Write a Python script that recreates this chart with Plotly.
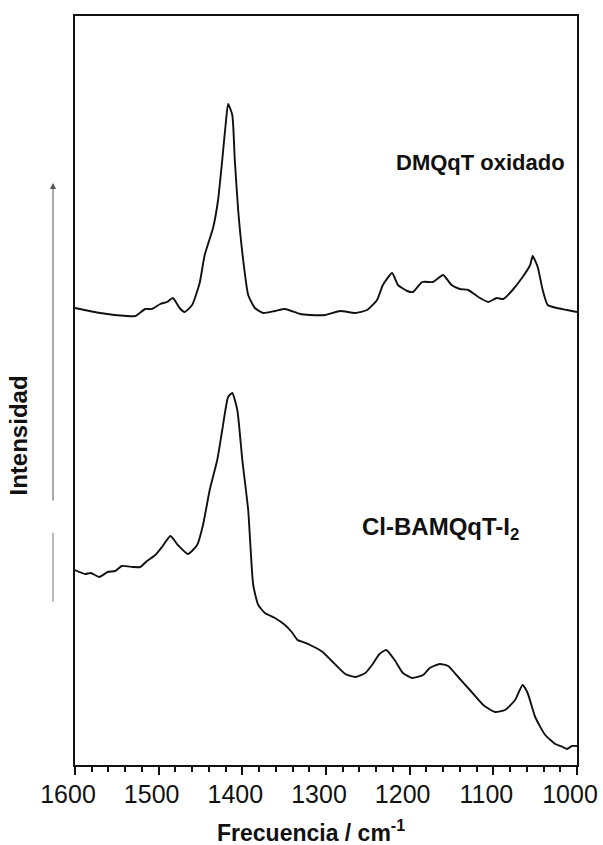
import plotly.graph_objects as go

# Wavenumbers (cm-1) and intensities (arbitrary units)
wn_top = [1600, 1570, 1538, 1528, 1516, 1508, 1498, 1490, 1483, 1475, 1469, 1460,
          1451, 1445, 1435, 1429, 1424, 1420, 1417, 1412, 1409, 1405, 1399, 1393,
          1385, 1375, 1361, 1349, 1331, 1319, 1301, 1283, 1265, 1251, 1239, 1232,
          1221, 1214, 1203, 1196, 1185, 1172, 1160, 1150, 1140, 1130, 1118, 1106,
          1096, 1088, 1077, 1065, 1056, 1053, 1047, 1041, 1035, 1024, 1012, 1000]
int_top = [457, 452, 449, 449, 456, 456, 461, 463, 467, 457, 453, 460,
           482, 510, 537, 565, 605, 640, 661, 650, 605, 555, 505, 470,
           457, 452, 454, 456, 451, 450, 450, 454, 452, 455, 465, 480,
           492, 480, 474, 473, 483, 483, 490, 480, 476, 475, 468, 463,
           467, 466, 475, 488, 500, 509, 498, 475, 460, 457, 455, 453]

wn_bot = [1600, 1588, 1581, 1571, 1561, 1552, 1544, 1531, 1522, 1514, 1504, 1496,
          1486, 1477, 1465, 1454, 1447, 1439, 1430, 1424, 1417, 1412, 1406, 1400,
          1393, 1387, 1381, 1373, 1361, 1349, 1341, 1334, 1331, 1319, 1304, 1293,
          1277, 1265, 1253, 1245, 1236, 1228, 1218, 1208, 1197, 1184, 1176, 1164,
          1154, 1142, 1128, 1112, 1098, 1086, 1074, 1065, 1059, 1050, 1038, 1026,
          1017, 1012, 1006, 1000]
int_bot = [195, 191, 192, 188, 193, 194, 199, 198, 198, 204, 210, 218,
           229, 220, 211, 220, 240, 275, 305, 335, 368, 372, 355, 305,
           255, 180, 160, 152, 147, 140, 133, 125, 124, 120, 113, 104,
           91, 88, 92, 100, 111, 115, 105, 92, 87, 90, 97, 101,
           99, 88, 75, 60, 53, 55, 65, 80, 72, 48, 30, 21,
           18, 16, 19, 19]

x_ticks = [1600, 1500, 1400, 1300, 1200, 1100, 1000]

fig = go.Figure()
line = dict(color="#111111", width=1.9, shape="spline", smoothing=0.5)
fig.add_trace(go.Scatter(x=wn_top, y=int_top, mode="lines", line=line, showlegend=False))
fig.add_trace(go.Scatter(x=wn_bot, y=int_bot, mode="lines", line=line, showlegend=False))

font = "Liberation Sans, Arial, sans-serif"

fig.update_layout(
    width=603, height=845,
    margin=dict(l=75, r=26, t=16, b=80, autoexpand=False),
    paper_bgcolor="white", plot_bgcolor="white",
    font=dict(family=font, color="#111111"),
    xaxis=dict(
        range=[1600, 1000], tickvals=x_ticks, ticktext=[str(v) for v in x_ticks],
        showline=True, linecolor="#111111", linewidth=2, mirror=True,
        ticks="outside", ticklen=8, tickwidth=2, tickcolor="#111111",
        minor=dict(dtick=20, ticks="outside", ticklen=5, tickwidth=1.5, tickcolor="#111111"),
        tickfont=dict(size=25, family=font), ticklabeloverflow="allow", automargin=False,
        ticklabelshift=7, ticklabelstandoff=-2,
        showgrid=False, zeroline=False,
    ),
    yaxis=dict(
        range=[0, 749], showline=True, linecolor="#111111", linewidth=2, mirror=True,
        showticklabels=False, ticks="", showgrid=False, zeroline=False, automargin=False,
    ),
    annotations=[
        dict(text="<b>Frecuencia / cm<sup>-1</sup></b>", x=0.47, y=-0.088, xref="paper", yref="paper",
             xanchor="center", yanchor="middle", showarrow=False, font=dict(size=23, family=font)),
        dict(text="<b>Intensidad</b>", textangle=-90, x=-0.1135, y=0.44, xref="paper", yref="paper",
             xanchor="center", yanchor="middle", showarrow=False, font=dict(size=24, family=font)),
        dict(text="<b>DMQqT oxidado</b>", x=0.807, y=0.804, xref="paper", yref="paper",
             xanchor="center", yanchor="middle", showarrow=False, font=dict(size=22, family=font)),
        dict(text="<b>Cl-BAMQqT-I<sub>2</sub></b>", x=0.729, y=0.316, xref="paper", yref="paper",
             xanchor="center", yanchor="middle", showarrow=False, font=dict(size=24, family=font)),
        dict(text="", x=-0.0438, y=0.777, ax=0, ay=319, xref="paper", yref="paper",
             axref="pixel", ayref="pixel", showarrow=True, arrowhead=2, arrowsize=1.2,
             arrowwidth=1, arrowcolor="#555555"),
    ],
    shapes=[
        dict(type="line", xref="paper", yref="paper", x0=-0.0438, x1=-0.0438, y0=0.218, y1=0.310,
             line=dict(color="#777777", width=1)),
    ],
)

fig.write_html("out.html")
